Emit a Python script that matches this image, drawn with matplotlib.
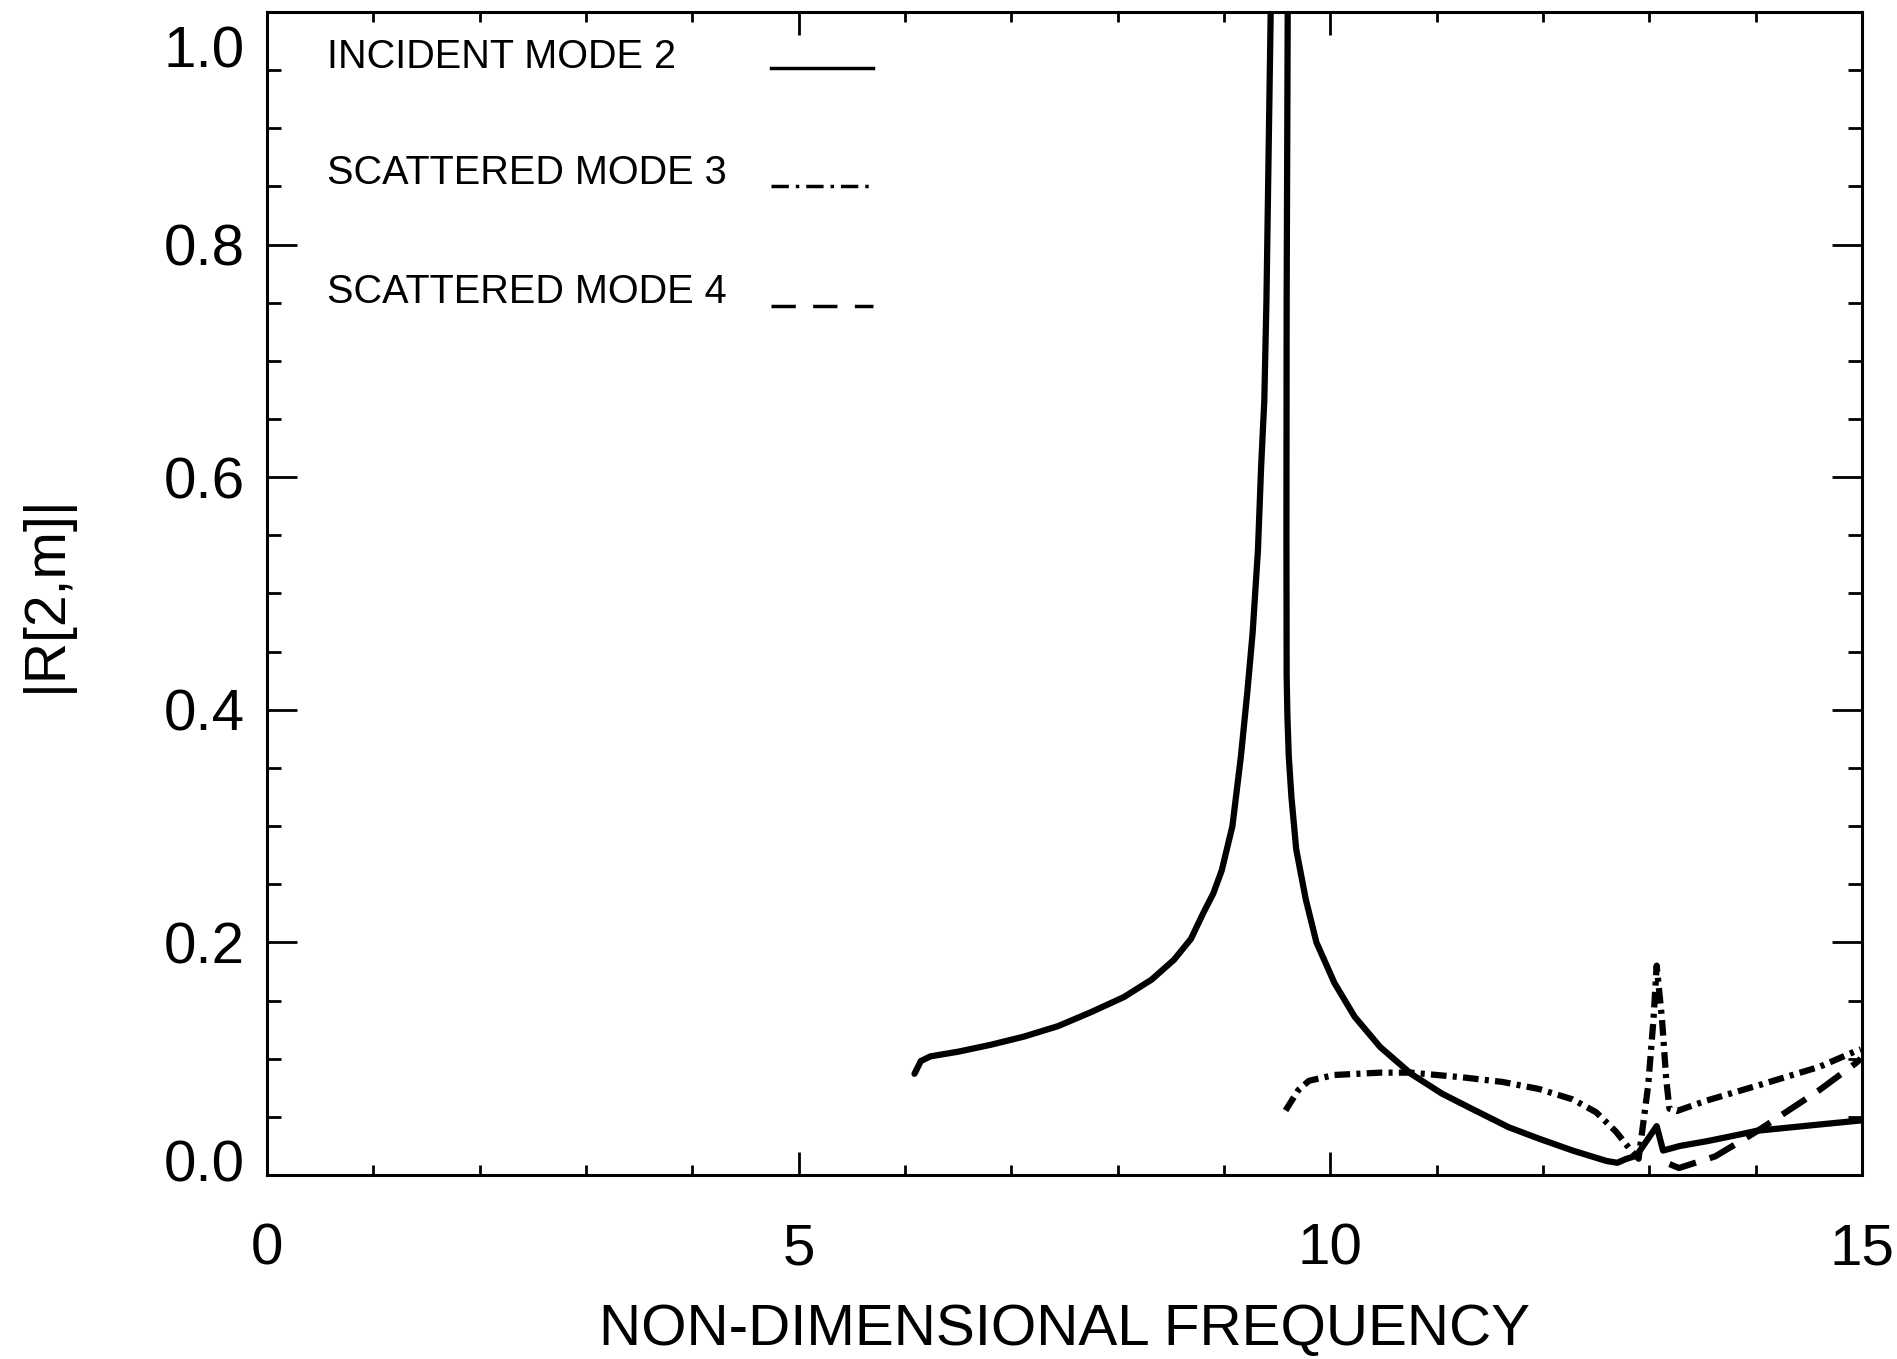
import matplotlib
matplotlib.use("Agg")
import matplotlib.pyplot as plt
import matplotlib.transforms as mtransforms
from matplotlib.ticker import FixedLocator, MultipleLocator

plt.rcParams['font.family'] = ['Liberation Sans', 'DejaVu Sans']

# ---------------- data ----------------
mode2_freq = [6.09, 6.15, 6.24, 6.50, 6.81, 7.12, 7.44, 7.75, 8.06, 8.32, 8.53,
              8.69, 8.81, 8.90, 8.98, 9.08, 9.16, 9.22, 9.27, 9.32, 9.35, 9.38,
              9.40, 9.44, 9.51, 9.60, 9.59, 9.588, 9.59, 9.597, 9.61, 9.635,
              9.68, 9.77, 9.87, 10.04, 10.23, 10.47, 10.76, 11.05, 11.33, 11.68,
              11.97, 12.28, 12.60, 12.70, 12.78, 12.88, 13.07, 13.13, 13.29,
              13.54, 13.86, 14.01, 14.60, 15.00]
mode2_val = [0.087, 0.098, 0.102, 0.106, 0.112, 0.119, 0.128, 0.140, 0.153, 0.168,
             0.185, 0.203, 0.226, 0.242, 0.262, 0.300, 0.360, 0.415, 0.466, 0.537,
             0.609, 0.666, 0.752, 1.000, 1.600, 1.000, 0.750, 0.550, 0.430, 0.395,
             0.360, 0.325, 0.280, 0.237, 0.200, 0.165, 0.136, 0.110, 0.087, 0.070,
             0.057, 0.041, 0.031, 0.021, 0.012, 0.0105, 0.0137, 0.0166, 0.042,
             0.021, 0.025, 0.029, 0.035, 0.038, 0.0434, 0.047]

mode3_freq = [9.58, 9.70, 9.80, 10.04, 10.47, 10.76, 11.24, 11.62, 11.96, 12.28,
              12.50, 12.69, 12.82, 12.90, 12.94, 12.99, 13.04, 13.07, 13.12, 13.16,
              13.19, 13.26, 13.54, 14.06, 14.60, 14.93, 14.99]
mode3_val = [0.0555, 0.073, 0.081, 0.086, 0.088, 0.088, 0.084, 0.080, 0.074, 0.065,
             0.054, 0.037, 0.022, 0.014, 0.042, 0.077, 0.134, 0.180, 0.134, 0.082,
             0.057, 0.055, 0.064, 0.078, 0.093, 0.106, 0.108]

mode4_freq = [13.19, 13.28, 13.45, 13.62, 13.84, 14.02, 14.26, 14.60, 14.94, 14.99]
mode4_val = [0.0094, 0.006, 0.011, 0.016, 0.028, 0.038, 0.0525, 0.073, 0.096, 0.100]

legend_labels = ["INCIDENT MODE 2", "SCATTERED MODE 3", "SCATTERED MODE 4"]
x_major_ticks = [0, 5, 10, 15]
y_major_ticks = [0.0, 0.2, 0.4, 0.6, 0.8, 1.0]
y_tick_labels = ["0.0", "0.2", "0.4", "0.6", "0.8", "1.0"]

# ---------------- figure ----------------
fig = plt.figure(figsize=(18.97, 13.59), dpi=100)
ax = fig.add_axes([0.1407, 0.1354, 0.8408, 0.8558])

LW = 4.5
ax.plot(mode2_freq, mode2_val, color='black', lw=LW, solid_joinstyle='round',
        solid_capstyle='round', linestyle='-')
ax.plot(mode3_freq, mode3_val, color='black', lw=LW,
        linestyle=(0, (2.5, 1.0, 0.65, 1.0)))
ax.plot(mode4_freq, mode4_val, color='black', lw=LW,
        linestyle=(0, (4.5, 2.3)))

ax.set_xlim(0, 15)
ax.set_ylim(0, 1.0)

ax.xaxis.set_major_locator(FixedLocator(x_major_ticks))
ax.xaxis.set_minor_locator(MultipleLocator(1))
ax.yaxis.set_major_locator(FixedLocator(y_major_ticks))
ax.yaxis.set_minor_locator(MultipleLocator(0.05))
ax.set_yticklabels(y_tick_labels)

for s in ax.spines.values():
    s.set_linewidth(2.2)

ax.tick_params(which='both', direction='in', top=True, right=True,
               width=2.0, color='black')
ax.tick_params(axis='x', which='major', length=16.5, labelsize=42, pad=34)
ax.tick_params(axis='x', which='minor', length=7.2)
ax.tick_params(axis='y', which='major', length=21.6, labelsize=42, pad=16)
ax.tick_params(axis='y', which='minor', length=10)

# nudge the extreme y tick labels as in the reference
yt = ax.yaxis.get_major_ticks()
up = mtransforms.ScaledTranslation(0, 14 / 100, fig.dpi_scale_trans)
down = mtransforms.ScaledTranslation(0, -35 / 100, fig.dpi_scale_trans)
yt[0].label1.set_transform(yt[0].label1.get_transform() + up)
yt[-1].label1.set_transform(yt[-1].label1.get_transform() + down)

ax.set_xlabel("NON-DIMENSIONAL FREQUENCY", fontsize=42)
ax.xaxis.set_label_coords(0.5, -0.110)
ax.set_ylabel("|R[2,m]|", fontsize=41)
ax.yaxis.set_label_coords(-0.1216, 0.5)

# ---------------- legend (text + sample lines) ----------------
leg_text_y = [0.9518, 0.8525, 0.7500]
leg_line_y = [0.9518, 0.8500, 0.7470]
leg_styles = [
    dict(linestyle='-'),
    dict(linestyle=(0, (5.0, 2.0, 1.0, 2.0))),
    dict(linestyle=(0, (7.0, 5.0))),
]
for lab, ty, ly, st in zip(legend_labels, leg_text_y, leg_line_y, leg_styles):
    ax.text(0.0376, ty, lab, transform=ax.transAxes, fontsize=28.5,
            ha='left', va='baseline')
    ax.plot([0.316, 0.380], [ly, ly], transform=ax.transAxes, color='black',
            lw=2.5, **st)

fig.savefig("out.png", dpi=100)
